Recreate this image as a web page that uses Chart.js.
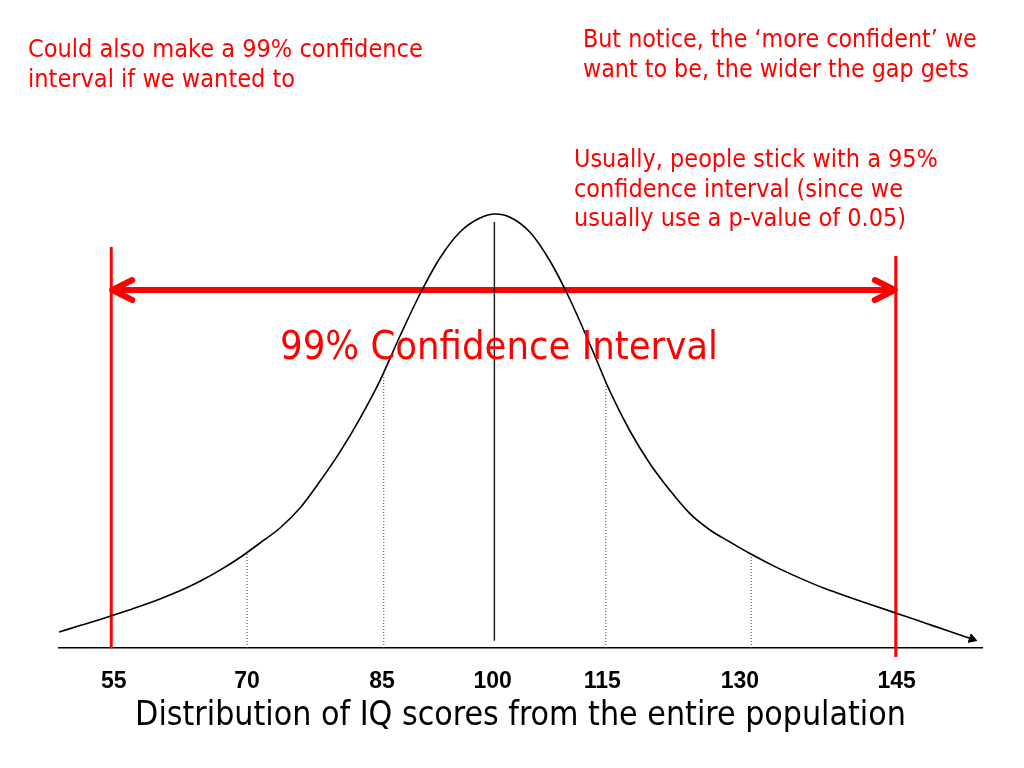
<!DOCTYPE html>
<html>
<head>
<meta charset="utf-8">
<title>99% confidence interval</title>
<script src="https://cdn.jsdelivr.net/npm/chart.js@4.4.1/dist/chart.umd.min.js"></script>
<style>
  html, body { margin: 0; padding: 0; background: #fff; }
  #wrap { width: 1024px; height: 768px; position: relative; }
</style>
</head>
<body>
<div id="wrap"><canvas id="iqChart"></canvas></div>
<script>
// x in IQ-like units as drawn on the slide, y = relative height above the baseline
const curveX = [50.00, 52.41, 54.71, 57.01, 59.30, 61.60, 63.90, 66.19, 68.49, 70.79, 73.08, 75.38,
                77.68, 79.97, 82.27, 84.57, 86.86, 89.16, 91.46, 93.75, 96.05, 98.35, 100.07,
                101.79, 104.09, 106.39, 108.68, 110.98, 113.28, 115.57, 117.87, 120.17, 122.46,
                124.76, 127.06, 129.35, 132.23, 135.10, 137.97, 140.84, 143.71, 146.58, 149.45,
                152.32, 154.85];
const curveY = [3.57, 5.00, 6.38, 7.81, 9.31, 10.96, 12.77, 14.89, 17.37, 20.20, 23.44, 26.79,
                31.25, 37.21, 43.77, 51.27, 59.69, 69.64, 79.02, 87.05, 92.86, 95.98, 96.88,
                96.16, 92.81, 86.38, 77.79, 67.75, 57.25, 48.44, 41.14, 35.16, 29.98,
                26.34, 23.66, 21.09, 18.17, 15.60, 13.26, 11.27, 9.38, 7.48, 5.58,
                3.68, 2.01];

// dotted guides at 70 / 85 / 115 / 130
const guideX = [71.6, 87.3, 112.8, 129.5];
const guideTop = [21.3, 61.6, 59.3, 21.0];

// red 99% limits
const limitX = [56.0, 146.1];
const limitTop = [89.5, 87.5];
const limitBottom = [0, -2.0];

// mean line
const meanX = 100;
const meanTop = 95.1;
const meanBottom = 1.6;

const arrowY = 79.9;

const tickPos = [56.3, 71.6, 87.1, 99.8, 112.4, 128.2, 146.2];
const tickLabels = ['55', '70', '85', '100', '115', '130', '145'];

const SANS = "'DejaVu Sans Condensed', 'DejaVu Sans', sans-serif";
const RED = '#ff0000';

const measureCtx = document.createElement('canvas').getContext('2d');
function fitSize(text, family, width) {
  measureCtx.font = '100px ' + family;
  return 100 * width / measureCtx.measureText(text).width;
}

const notes = [
  { lines: ['Could also make a 99% confidence', 'interval if we wanted to'], x: 28, y: 57, width: 395, lh: 30 },
  { lines: ['But notice, the \u2018more confident\u2019 we', 'want to be, the wider the gap gets'], x: 583, y: 47, width: 394, lh: 30 },
  { lines: ['Usually, people stick with a 95%', 'confidence interval (since we', 'usually use a p-value of 0.05)'], x: 574, y: 167, width: 364, lh: 29.5 }
];
const bigLabel = '99% Confidence Interval';
const axisTitle = 'Distribution of IQ scores from the entire population';

function segment(x0, y0, x1, y1) {
  return [{ x: x0, y: y0 }, { x: x1, y: y1 }];
}

const datasets = [];

datasets.push({
  data: curveX.map((x, i) => ({ x, y: curveY[i] })),
  borderColor: '#000',
  borderWidth: 1.6,
  cubicInterpolationMode: 'monotone',
  pointStyle: 'triangle',
  pointRadius: c => (c.dataIndex === curveX.length - 1 ? 5 : 0),
  pointBackgroundColor: '#000',
  pointBorderColor: '#000',
  pointBorderWidth: 1,
  pointRotation: c => {
    const n = curveX.length - 1;
    if (c.dataIndex !== n) return 0;
    const sx = c.chart.scales.x, sy = c.chart.scales.y;
    const dx = sx.getPixelForValue(curveX[n]) - sx.getPixelForValue(curveX[n - 1]);
    const dy = sy.getPixelForValue(curveY[n]) - sy.getPixelForValue(curveY[n - 1]);
    return 90 + Math.atan2(dy, dx) * 180 / Math.PI;
  },
  clip: false
});

guideX.forEach((x, i) => {
  datasets.push({
    data: segment(x, 0, x, guideTop[i]),
    borderColor: '#444',
    borderWidth: 1,
    borderDash: [1, 2],
    pointRadius: 0
  });
});

datasets.push({
  data: segment(meanX, meanBottom, meanX, meanTop),
  borderColor: '#222',
  borderWidth: 1.5,
  pointRadius: 0
});

limitX.forEach((x, i) => {
  datasets.push({
    data: segment(x, limitBottom[i], x, limitTop[i]),
    borderColor: RED,
    borderWidth: 3,
    pointRadius: 0,
    clip: false
  });
});

const arrowIndex = datasets.length;
datasets.push({
  data: segment(limitX[0], arrowY, limitX[1], arrowY),
  borderColor: RED,
  borderWidth: 6,
  pointRadius: 0
});

const overlay = {
  id: 'overlay',
  afterDatasetsDraw(chart) {
    const ctx = chart.ctx;
    const pts = chart.getDatasetMeta(arrowIndex).data;

    // arrow heads
    ctx.save();
    ctx.strokeStyle = RED;
    ctx.lineWidth = 6;
    ctx.lineCap = 'round';
    ctx.lineJoin = 'round';
    [[pts[0], 1], [pts[1], -1]].forEach(([p, dir]) => {
      ctx.beginPath();
      ctx.moveTo(p.x + dir * 21, p.y - 10);
      ctx.lineTo(p.x + dir * 1, p.y);
      ctx.lineTo(p.x + dir * 21, p.y + 10);
      ctx.stroke();
    });
    ctx.restore();

    // red notes
    ctx.save();
    ctx.fillStyle = RED;
    ctx.textBaseline = 'alphabetic';
    ctx.textAlign = 'left';
    notes.forEach(n => {
      const size = fitSize(n.lines[0], SANS, n.width);
      ctx.font = size + 'px ' + SANS;
      n.lines.forEach((line, i) => ctx.fillText(line, n.x, n.y + i * n.lh));
    });
    const bigSize = fitSize(bigLabel, SANS, 438);
    ctx.font = bigSize + 'px ' + SANS;
    ctx.textAlign = 'center';
    ctx.fillText(bigLabel, 499, 359);
    ctx.restore();
  }
};

new Chart(document.getElementById('iqChart'), {
  type: 'line',
  data: { datasets },
  plugins: [overlay],
  options: {
    responsive: true,
    maintainAspectRatio: false,
    animation: false,
    events: [],
    layout: { padding: { left: 59, right: 42, top: 200, bottom: 0 } },
    plugins: {
      legend: { display: false },
      tooltip: { enabled: false }
    },
    scales: {
      x: {
        type: 'linear',
        min: 50,
        max: 156,
        grid: { display: true, drawOnChartArea: false, drawTicks: false },
        border: { display: true, color: '#000', width: 1.5 },
        afterBuildTicks: s => { s.ticks = tickPos.map(v => ({ value: v })); },
        afterFit: s => { s.height = 120; },
        ticks: {
          autoSkip: false,
          maxRotation: 0,
          padding: 20,
          color: '#000',
          font: { family: "'Liberation Sans', Arial, sans-serif", weight: 'bold', size: 23 },
          callback: (v, i) => tickLabels[i]
        },
        title: {
          display: true,
          text: axisTitle,
          color: '#000',
          font: { family: SANS, size: fitSize(axisTitle, SANS, 771) },
          padding: { top: 0, bottom: 32 }
        }
      },
      y: {
        type: 'linear',
        display: false,
        min: 0,
        max: 100
      }
    }
  }
});
</script>
</body>
</html>
